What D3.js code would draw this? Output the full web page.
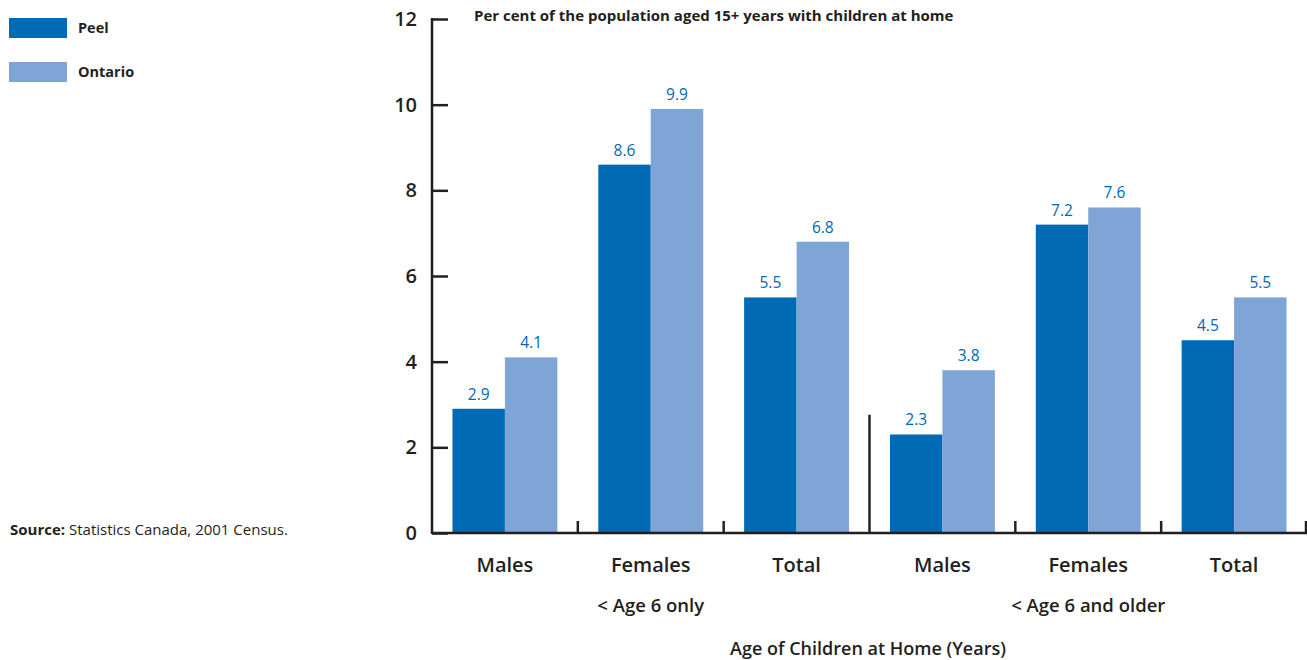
<!DOCTYPE html>
<html><head><meta charset="utf-8">
<script src="https://cdn.jsdelivr.net/npm/d3@7"></script>
<style>body{margin:0;background:#fff}svg{display:block}text{font-family:"Open Sans",sans-serif;fill:#231f20}</style>
</head><body>
<script>
const categories = ["Males","Females","Total","Males ","Females ","Total "];
const catLabels = ["Males","Females","Total","Males","Females","Total"];
const series = ["Peel","Ontario"];
const peel = [2.9, 8.6, 5.5, 2.3, 7.2, 4.5];
const ontario = [4.1, 9.9, 6.8, 3.8, 7.6, 5.5];
const yTicks = [0,2,4,6,8,10,12];
const groupLabels = ["< Age 6 only","< Age 6 and older"];
const colors = {Peel:"#006ab5", Ontario:"#7fa5d6"};

const W=1307,H=660;
const svg=d3.select("body").append("svg").attr("width",W).attr("height",H);
const x0=d3.scaleBand().domain(categories).range([432,1307]).padding(0);
const x1=d3.scaleBand().domain(series).range([0,x0.bandwidth()]).paddingInner(0).paddingOuter(0.39);
const y=d3.scaleLinear().domain([0,12]).range([533,19]);
const dark="#231f20";

// bars
const data = categories.map((c,i)=>({c, vals:[{s:"Peel",v:peel[i]},{s:"Ontario",v:ontario[i]}]}));
const g=svg.append("g");
const grp=g.selectAll("g").data(data).join("g").attr("transform",d=>`translate(${x0(d.c)},0)`);
grp.selectAll("rect").data(d=>d.vals).join("rect")
  .attr("x",d=>x1(d.s)).attr("width",x1.bandwidth())
  .attr("y",d=>y(d.v)).attr("height",d=>y(0)-y(d.v)).attr("fill",d=>colors[d.s]);
grp.selectAll("text.v").data(d=>d.vals).join("text").attr("class","v")
  .attr("x",d=>x1(d.s)+x1.bandwidth()/2).attr("y",d=>y(d.v)-9)
  .attr("text-anchor","middle").style("font-size","15.5px").style("font-weight","400").style("fill","#0068b4")
  .text(d=>d.v.toFixed(1));

// y axis
const ya=svg.append("g").attr("transform","translate(432,0)")
  .call(d3.axisRight(y).tickValues(yTicks).tickSize(16).tickFormat(""));
ya.select(".domain").remove();
ya.selectAll("line").attr("stroke",dark).attr("stroke-width",2.5);
svg.append("line").attr("x1",432).attr("x2",432).attr("y1",y(12)-1).attr("y2",y(0)+1).attr("stroke",dark).attr("stroke-width",2.5);
svg.selectAll("text.yl").data(yTicks).join("text").attr("class","yl")
  .attr("x",417).attr("y",d=>y(d)+7).attr("text-anchor","end").style("font-size","20px").style("font-weight","600").text(d=>d);

// x axis
svg.append("line").attr("x1",432).attr("x2",1307).attr("y1",y(0)).attr("y2",y(0)).attr("stroke",dark).attr("stroke-width",2.5);
categories.forEach((c,i)=>{
  if(i===0) return;
  const xx=x0(c);
  svg.append("line").attr("x1",xx).attr("x2",xx).attr("y1",y(0)).attr("y2",i===3?y(2.76):y(0.28)).attr("stroke",dark).attr("stroke-width",2.5);
});
svg.append("line").attr("x1",1306).attr("x2",1306).attr("y1",y(0)).attr("y2",y(0.28)).attr("stroke",dark).attr("stroke-width",2.5);
svg.selectAll("text.xl").data(categories).join("text").attr("class","xl")
  .attr("x",d=>x0(d)+x0.bandwidth()/2).attr("y",572).attr("text-anchor","middle").style("font-size","20px").style("font-weight","600")
  .text((d,i)=>catLabels[i]);
groupLabels.forEach((t,i)=>{
  svg.append("text").attr("x",x0(categories[i*3+1])+x0.bandwidth()/2).attr("y",612)
    .attr("text-anchor","middle").style("font-size","18.5px").style("font-weight","600").text(t);
});
svg.append("text").attr("x",868).attr("y",655).attr("text-anchor","middle").style("font-size","18px").style("font-weight","600").text("Age of Children at Home (Years)");

// title
svg.append("text").attr("x",474).attr("y",21).style("font-size","15px").style("font-weight","bold")
  .text("Per cent of the population aged 15+ years with children at home");

// legend
series.forEach((s,i)=>{
  svg.append("rect").attr("x",9).attr("y",18+i*44).attr("width",58).attr("height",20).attr("fill",colors[s]);
  svg.append("text").attr("x",78).attr("y",33+i*44).style("font-size","14.5px").style("font-weight","bold").text(s);
});
const src=svg.append("text").attr("x",10).attr("y",535).style("font-size","15px");
src.append("tspan").style("font-weight","bold").text("Source:");
src.append("tspan").text(" Statistics Canada, 2001 Census.");
</script>
</body></html>
